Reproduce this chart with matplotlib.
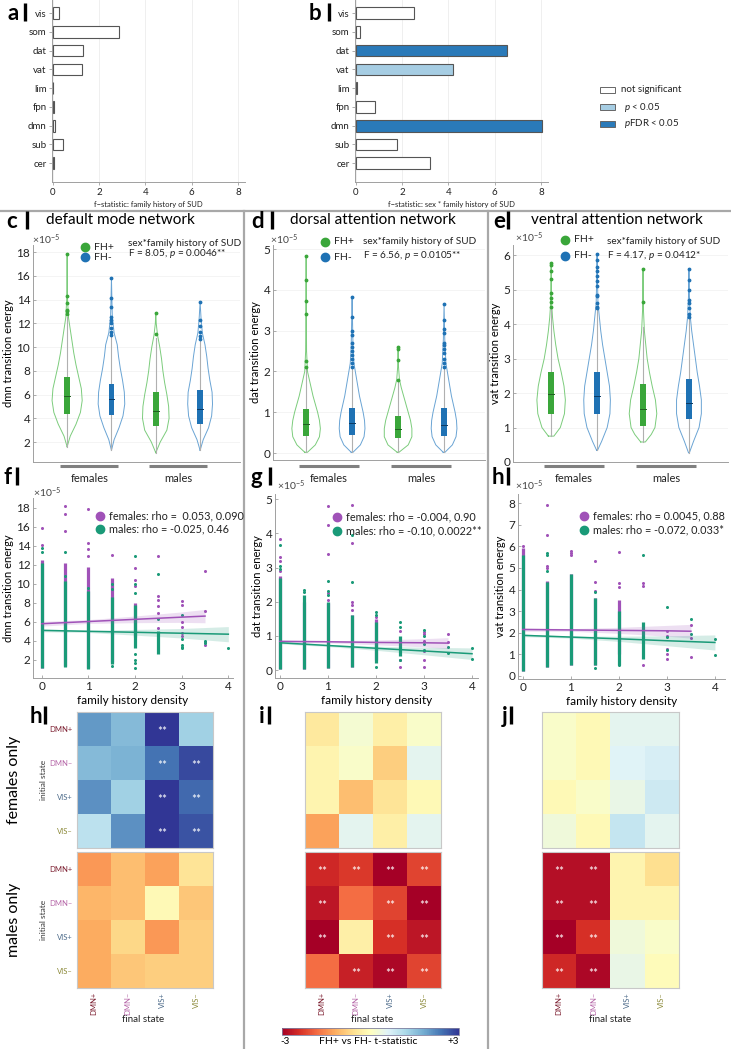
import numpy as np
import matplotlib
matplotlib.use("Agg")
import matplotlib.pyplot as plt
import matplotlib.transforms as mtransforms
from matplotlib.lines import Line2D
from matplotlib.patches import Rectangle
from matplotlib.colors import Normalize
from matplotlib.colorbar import ColorbarBase

plt.rcParams["font.family"] = ["Lato", "DejaVu Sans"]
plt.rcParams["mathtext.fontset"] = "custom"
plt.rcParams["mathtext.rm"] = "Lato"
plt.rcParams["mathtext.it"] = "Lato:italic"

# ---------------- data ----------------
networks = ["vis", "som", "dat", "vat", "lim", "fpn", "dmn", "sub", "cer"]
f_fh = [0.28, 2.85, 1.3, 1.25, 0.03, 0.05, 0.1, 0.45, 0.05]
f_sex_fh = [2.5, 0.18, 6.55, 4.18, 0.04, 0.82, 8.05, 1.78, 3.2]
sig_fh = [0, 0, 0, 0, 0, 0, 0, 0, 0]
sig_sex_fh = [0, 0, 2, 1, 0, 0, 2, 0, 0]
sig_labels = ["not significant", "$p$ < 0.05", "$p$FDR < 0.05"]

groups = ["females", "males"]

# violins (units 1e-5), order: FH+ females, FH- females, FH+ males, FH- males
c_ys = [[1.6, 2.5, 3.5, 4.5, 5.5, 6.5, 7.5, 8.5, 9.5, 10.5, 11.5, 12.5, 14, 16, 17.8],
        [1.3, 2.2, 3.2, 4.2, 5.2, 6.2, 7.2, 8.2, 9.2, 10.2, 11.2, 12.5, 14, 15.8],
        [1.1, 2.0, 3.0, 4.0, 5.0, 6.0, 7.0, 8.0, 9.0, 10.0, 11.0, 12.0, 12.9],
        [1.3, 2.2, 3.2, 4.2, 5.2, 6.2, 7.2, 8.2, 9.2, 10.2, 11.2, 12.5, 13.8]]
c_hw = [[0, 0.07, 0.2, 0.3, 0.34, 0.32, 0.26, 0.2, 0.15, 0.11, 0.07, 0.03, 0.01, 0.005, 0],
        [0, 0.06, 0.17, 0.26, 0.3, 0.29, 0.25, 0.2, 0.16, 0.13, 0.06, 0.02, 0.01, 0],
        [0, 0.1, 0.25, 0.3, 0.29, 0.25, 0.2, 0.16, 0.13, 0.09, 0.04, 0.01, 0],
        [0, 0.07, 0.19, 0.26, 0.28, 0.27, 0.22, 0.18, 0.15, 0.11, 0.05, 0.02, 0]]
c_box = [[4.4, 5.9, 7.45], [4.3, 5.6, 6.9], [3.35, 4.6, 6.25], [3.55, 4.8, 6.35]]
c_wtop = [12.5, 10.9, 10.8, 10.5]
c_out = [[12.8, 13.0, 13.1, 13.7, 14.3, 17.8],
         [11.0, 11.3, 11.6, 12.0, 12.3, 12.5, 13.4, 14.1, 15.8],
         [11.1, 12.9],
         [10.7, 10.9, 11.3, 11.8, 12.3, 13.8]]

d_ys = [[0.02, 0.2, 0.4, 0.6, 0.8, 1.0, 1.2, 1.4, 1.6, 1.8, 2.0, 2.5, 3.5, 4.82],
        [0.02, 0.2, 0.4, 0.6, 0.8, 1.0, 1.2, 1.4, 1.6, 1.8, 2.0, 2.2, 2.6, 3.2, 3.83],
        [0.02, 0.2, 0.4, 0.6, 0.8, 1.0, 1.2, 1.4, 1.6, 1.8, 2.1, 2.6],
        [0.02, 0.2, 0.4, 0.6, 0.8, 1.0, 1.2, 1.4, 1.6, 1.8, 2.0, 2.2, 2.8, 3.65]]
d_hw = [[0.03, 0.2, 0.29, 0.31, 0.29, 0.25, 0.2, 0.15, 0.11, 0.07, 0.03, 0.01, 0.005, 0],
        [0.02, 0.18, 0.26, 0.28, 0.27, 0.24, 0.2, 0.16, 0.13, 0.1, 0.07, 0.04, 0.02, 0.01, 0],
        [0.02, 0.22, 0.3, 0.3, 0.27, 0.22, 0.17, 0.12, 0.07, 0.03, 0.01, 0],
        [0.02, 0.18, 0.26, 0.28, 0.27, 0.24, 0.2, 0.16, 0.13, 0.1, 0.07, 0.04, 0.015, 0]]
d_box = [[0.43, 0.72, 1.07], [0.45, 0.73, 1.1], [0.36, 0.58, 0.92], [0.43, 0.7, 1.1]]
d_wtop = [2.05, 2.05, 1.75, 2.05]
d_out = [[2.1, 2.25, 3.4, 3.72, 4.25, 4.82],
         [2.1, 2.2, 2.3, 2.4, 2.5, 2.6, 2.7, 2.9, 3.0, 3.33, 3.83],
         [1.78, 2.28, 2.55, 2.6],
         [2.1, 2.2, 2.3, 2.45, 2.55, 2.65, 2.7, 2.95, 3.05, 3.25, 3.65]]

e_ys = [[0.75, 1.0, 1.4, 1.8, 2.2, 2.6, 3.0, 3.4, 3.8, 4.2, 4.5, 5.0, 5.78],
        [0.34, 0.6, 1.0, 1.4, 1.8, 2.2, 2.6, 3.0, 3.4, 3.8, 4.2, 4.6, 5.2, 6.02],
        [0.58, 0.8, 1.0, 1.4, 1.8, 2.2, 2.6, 3.0, 3.4, 3.8, 4.4, 5.6],
        [0.27, 0.6, 1.0, 1.4, 1.8, 2.2, 2.6, 3.0, 3.4, 3.8, 4.2, 4.8, 5.6]]
e_hw = [[0.06, 0.2, 0.29, 0.31, 0.28, 0.22, 0.15, 0.1, 0.06, 0.03, 0.015, 0.008, 0],
        [0.01, 0.1, 0.22, 0.28, 0.29, 0.27, 0.22, 0.17, 0.12, 0.08, 0.05, 0.02, 0.01, 0],
        [0.05, 0.18, 0.26, 0.3, 0.27, 0.2, 0.14, 0.09, 0.06, 0.03, 0.01, 0],
        [0.01, 0.1, 0.22, 0.27, 0.27, 0.23, 0.18, 0.14, 0.1, 0.06, 0.03, 0.01, 0]]
e_box = [[1.4, 1.97, 2.62], [1.4, 1.9, 2.6], [1.05, 1.55, 2.25], [1.25, 1.72, 2.42]]
e_wtop = [4.45, 4.4, 3.9, 4.15]
e_out = [[4.5, 4.65, 4.75, 4.9, 5.3, 5.55, 5.7, 5.78],
         [4.45, 4.5, 4.6, 4.8, 4.85, 5.1, 5.25, 5.4, 5.55, 5.65, 5.85, 6.02],
         [4.65, 5.6],
         [4.2, 4.3, 4.45, 4.6, 4.7, 5.0, 5.27, 5.6]]

# scatter panels: dense columns (x, lo, hi) and separate points, units 1e-5
f_fem_dense_x = [0, 0.5, 1, 1.5, 2]
f_fem_dense_lo = [1.2, 1.4, 1.1, 1.8, 4.4]
f_fem_dense_hi = [12.5, 12.2, 11.8, 10.6, 8.0]
f_mal_dense_x = [0, 0.5, 1, 1.5, 2, 2.5]
f_mal_dense_lo = [1.2, 1.3, 1.0, 1.6, 3.3, 2.6]
f_mal_dense_hi = [12.2, 10.3, 9.2, 8.6, 7.8, 5.0]
f_fem_px = [0, 0, 0.5, 0.5, 0.5, 1, 1, 1, 1, 1.5, 2, 2, 2, 2.5, 2.5, 2.5, 2.5, 2.5, 2.5,
            3, 3, 3, 3, 3, 3, 3.5, 3.5, 3.5, 3.5]
f_fem_py = [15.8, 14.1, 18.2, 17.3, 15.5, 17.8, 14.3, 13.6, 12.9, 13.0, 11.7, 10.4, 9.8,
            12.9, 8.7, 8.3, 7.7, 6.9, 5.4, 8.2, 7.8, 6.0, 5.5, 4.8, 4.5, 11.3, 7.1, 3.9, 3.6]
f_mal_px = [0, 0, 0.5, 0.5, 1, 1.5, 1.5, 1.5, 2, 2, 2, 2, 2, 2, 2, 2.5, 2.5, 3, 3, 3, 3, 3,
            3.5, 3.5, 4]
f_mal_py = [13.8, 13.3, 13.3, 10.8, 9.5, 10.0, 9.4, 1.4, 12.9, 10.0, 9.0, 2.6, 2.0, 1.7, 1.2,
            11.0, 6.3, 6.7, 4.2, 3.6, 3.4, 3.2, 4.0, 3.8, 3.3]
f_fem_fit_x = [0, 1, 2, 3, 3.5]
f_fem_fit = [5.8, 6.03, 6.26, 6.49, 6.6]
f_fem_ci = [0.25, 0.2, 0.35, 0.55, 0.7]
f_mal_fit_x = [0, 1, 2, 3, 4]
f_mal_fit = [5.1, 5.0, 4.9, 4.8, 4.7]
f_mal_ci = [0.15, 0.12, 0.3, 0.5, 0.8]

g_fem_dense_x = [0, 0.5, 1, 1.5, 2]
g_fem_dense_lo = [0.02, 0.02, 0.05, 0.1, 0.3]
g_fem_dense_hi = [2.75, 2.0, 1.95, 1.6, 1.5]
g_mal_dense_x = [0, 0.5, 1, 1.5, 2, 2.5]
g_mal_dense_lo = [0.02, 0.02, 0.05, 0.1, 0.2, 0.4]
g_mal_dense_hi = [2.7, 2.2, 2.0, 1.6, 1.4, 1.0]
g_fem_px = [0, 0, 0, 0, 0.5, 1, 1, 1, 1, 1, 1.5, 1.5, 1.5, 1.5, 1.5, 2, 2.5, 2.5, 2.5, 2.5,
            2.5, 3, 3, 3, 3, 3, 3, 3.5, 3.5]
g_fem_py = [3.83, 3.3, 3.2, 2.9, 2.0, 4.8, 4.25, 3.4, 2.25, 2.05, 4.83, 3.72, 1.98, 1.9, 1.75,
            1.55, 1.15, 0.9, 0.5, 0.3, 0.1, 1.12, 1.05, 0.85, 0.55, 0.3, 0.1, 1.05, 0.82]
g_mal_px = [0, 0, 0, 0.5, 0.5, 1, 1, 1, 1.5, 1.5, 2, 2, 2, 2.5, 2.5, 2.5, 3, 3, 3, 3, 3.5, 3.5,
            4, 4]
g_mal_py = [3.65, 3.05, 2.95, 2.33, 2.28, 2.6, 2.3, 2.2, 3.95, 2.58, 1.7, 1.62, 0.1, 1.4, 1.25,
            0.3, 1.17, 1.0, 0.75, 0.6, 0.67, 0.5, 0.65, 0.33]
g_fem_fit_x = [0, 1, 2, 3, 3.5]
g_fem_fit = [0.84, 0.83, 0.81, 0.80, 0.79]
g_fem_ci = [0.04, 0.03, 0.07, 0.12, 0.16]
g_mal_fit_x = [0, 1, 2, 3, 4]
g_mal_fit = [0.80, 0.72, 0.64, 0.56, 0.48]
g_mal_ci = [0.03, 0.03, 0.06, 0.11, 0.17]

h_fem_dense_x = [0, 0.5, 1, 1.5, 2]
h_fem_dense_lo = [0.25, 0.4, 0.5, 0.5, 1.0]
h_fem_dense_hi = [5.9, 4.4, 4.7, 3.6, 3.5]
h_mal_dense_x = [0, 0.5, 1, 1.5, 2, 2.5]
h_mal_dense_lo = [0.25, 0.4, 0.5, 0.5, 0.5, 0.8]
h_mal_dense_hi = [5.6, 4.35, 4.7, 3.6, 3.0, 2.5]
h_fem_px = [0, 0.5, 0.5, 0.5, 0.5, 1, 1, 1, 1.5, 1.5, 1.5, 2, 2, 2, 2.5, 2.5, 2.5, 2.5, 2.5,
            3, 3, 3, 3, 3, 3.5, 3.5, 3.5]
h_fem_py = [6.0, 7.9, 6.5, 5.1, 5.0, 5.8, 5.7, 5.6, 5.3, 4.35, 3.95, 5.75, 4.3, 4.1, 4.3, 4.15,
            1.7, 1.0, 0.5, 2.1, 1.85, 1.25, 1.0, 0.8, 2.35, 1.75, 0.9]
h_mal_px = [0.5, 0.5, 0.5, 1.5, 1.5, 2, 2.5, 3, 3, 3, 3.5, 3.5, 4, 4]
h_mal_py = [5.7, 5.6, 4.85, 3.9, 0.35, 0.5, 5.6, 3.2, 1.8, 1.2, 2.65, 1.95, 1.7, 0.95]
h_fem_fit_x = [0, 1, 2, 3, 3.5]
h_fem_fit = [2.15, 2.13, 2.11, 2.09, 2.07]
h_fem_ci = [0.08, 0.06, 0.14, 0.25, 0.32]
h_mal_fit_x = [0, 1, 2, 3, 4]
h_mal_fit = [1.88, 1.80, 1.72, 1.63, 1.55]
h_mal_ci = [0.06, 0.05, 0.12, 0.23, 0.35]

# heatmaps: FH+ vs FH- t-statistic, rows = initial state, cols = final state
states = ["DMN+", "DMN\u2013", "VIS+", "VIS\u2013"]
state_colors = ["#7b1c2e", "#b565a7", "#4d6b8a", "#8c8a3a"]
hm_dmn_fem = [[2.0, 1.6, 3.0, 1.3], [1.6, 1.7, 2.4, 2.8], [2.1, 1.3, 3.0, 2.5], [1.0, 2.1, 3.0, 2.7]]
hm_dmn_mal = [[-1.4, -1.0, -1.3, -0.5], [-1.1, -1.0, -0.1, -0.9], [-1.2, -0.7, -1.4, -0.8],
              [-1.2, -0.9, -0.8, -0.8]]
hm_dat_fem = [[-0.4, 0.2, -0.3, 0.1], [-0.2, 0.1, -0.8, 0.5], [-0.2, -1.0, -0.5, -0.1],
              [-1.3, 0.5, -0.3, 0.5]]
hm_dat_mal = [[-2.5, -2.3, -3.0, -2.2], [-2.7, -1.8, -2.2, -3.0], [-3.0, -0.3, -2.4, -2.7],
              [-1.8, -2.6, -2.9, -2.2]]
hm_vat_fem = [[0.1, -0.1, 0.5, 0.5], [0.1, -0.1, 0.6, 0.7], [-0.1, 0.1, 0.4, 0.8],
              [0.3, -0.1, 0.9, 0.5]]
hm_vat_mal = [[-2.8, -2.8, -0.2, -0.6], [-2.8, -2.8, -0.2, -0.2], [-3.0, -2.4, 0.3, 0.1],
              [-2.5, -2.9, 0.4, -0.05]]
st_dmn_fem = [[0, 0, 1, 0], [0, 0, 1, 1], [0, 0, 1, 1], [0, 0, 1, 1]]
st_none = [[0, 0, 0, 0]] * 4
st_dat_mal = [[1, 1, 1, 1], [1, 0, 1, 1], [1, 0, 1, 1], [0, 1, 1, 1]]
st_vat_mal = [[1, 1, 0, 0]] * 4

# ---------------- figure ----------------
W, H = 731, 1049
fig = plt.figure(figsize=(W / 100, H / 100), dpi=100)

GREEN, GREEN_L, GREEN_D = "#3aa63a", "#7ccc7c", "#215e21"
BLUE, BLUE_L, BLUE_D = "#1f72b4", "#6aa4d4", "#0c3a63"
PURPLE, TEAL = "#a052b8", "#1a9a78"
AX_GRAY = "#a0a0a0"


def px(l, t, r, b):
    return [l / W, 1 - b / H, (r - l) / W, (b - t) / H]


def ftext(x, y, s, **kw):
    fig.text(x / W, 1 - y / H, s, **kw)


def fline(xs, ys, **kw):
    fig.add_artist(Line2D([x / W for x in xs], [1 - y / H for y in ys],
                          transform=fig.transFigure, **kw))


def letter(x, base, s, bar_x):
    ftext(x, base, s, fontsize=16, fontweight="bold", va="baseline")
    fline([bar_x, bar_x], [base - 17, base + 1], color="black", lw=2.4, solid_capstyle="butt")


def style_axes(ax):
    for sp in ["top", "right"]:
        ax.spines[sp].set_visible(False)
    for sp in ["left", "bottom"]:
        ax.spines[sp].set_color(AX_GRAY)
        ax.spines[sp].set_linewidth(0.7)
    ax.tick_params(color=AX_GRAY, labelcolor="#222222", direction="in", length=2.5, width=0.6)


# dividers
fline([0, W], [211, 211], color="#a8a8a8", lw=1.6)
fline([244, 244], [211, H], color="#a8a8a8", lw=1.6)
fline([488, 488], [211, H], color="#a8a8a8", lw=1.6)

# ---- a, b: bar panels ----
sig_colors = ["white", "#a6cde3", "#2a7ab9"]
for box, vals, sig, xlab in [((52, 0, 245, 182), f_fh, sig_fh, "f\u2212statistic: family history of SUD"),
                             ((355, 0, 548, 182), f_sex_fh, sig_sex_fh,
                              "f\u2212statistic: sex * family history of SUD")]:
    ax = fig.add_axes(px(*box))
    ax.barh(np.arange(len(networks)), vals, height=0.62,
            color=[sig_colors[s] for s in sig], edgecolor="#555555", linewidth=0.8, zorder=3)
    ax.set_ylim(9.0, -0.7)
    ax.set_xlim(-0.03, 8.3)
    ax.set_xticks([0, 2, 4, 6, 8])
    ax.set_yticks(np.arange(len(networks)))
    ax.set_yticklabels(networks)
    ax.grid(axis="x", color="#ececec", lw=0.6)
    style_axes(ax)
    ax.tick_params(labelsize=7, direction="out", length=2, pad=2)
    ax.set_xlabel(xlab, fontsize=5.5, labelpad=3, color="#222222")

for i, (lab, col) in enumerate(zip(sig_labels, sig_colors)):
    y = 90 + 17 * i
    fig.add_artist(Rectangle((600 / W, 1 - (y + 3) / H), 15 / W, 6 / H, transform=fig.transFigure,
                             facecolor=col, edgecolor="#666666", lw=0.7))
    ftext(621 + (3 if i else 0), y, lab, fontsize=7, va="center", color="#222222")

letter(8, 20, "a", 25)
letter(309, 20, "b", 329)

# ---- c, d, e: violins ----
violin_panels = [
    ("c", (33, 245, 240, 462), (0.23, 4.9), (0.32, 18.6), range(2, 19, 2), c_ys, c_hw, c_box, c_wtop,
     c_out, "dmn transition energy", "default mode network", 120, "F = 8.05, $p$ = 0.0046**",
     (85, 247, 257), (128, 243, 254), (32, 240), (6, 27)),
    ("d", (273, 245, 485, 460), (0.28, 4.89), (-0.17, 5.1), range(0, 6), d_ys, d_hw, d_box, d_wtop,
     d_out, "dat transition energy", "dorsal attention network", 373, "F = 6.56, $p$ = 0.0105**",
     (325, 242, 257), (363, 242, 256), (270, 240), (251, 272)),
    ("e", (513, 245, 728, 462), (0.17, 4.85), (0.0, 6.29), range(0, 7), e_ys, e_hw, e_box, e_wtop,
     e_out, "vat transition energy", "ventral attention network", 617, "F = 4.17, $p$ = 0.0412*",
     (565, 240, 256), (607, 242, 255), (515, 238), (493, 508)),
]

for (name, box, xl, yl, yt, ys_l, hw_l, box_l, wtop_l, out_l, ylab, title, tx, ftxt,
     leg, ann, expo, let) in violin_panels:
    ax = fig.add_axes(px(*box))
    for i in range(4):
        pos = i + 1
        dark, light, med = (GREEN, GREEN_L, GREEN_D) if i % 2 == 0 else (BLUE, BLUE_L, BLUE_D)
        ys = np.asarray(ys_l[i])
        hw = np.asarray(hw_l[i])
        ax.plot(np.r_[pos - hw, (pos + hw)[::-1], pos - hw[0]], np.r_[ys, ys[::-1], ys[0]],
                color=light, lw=0.7, zorder=2)
        ax.plot([pos, pos], [ys[0], wtop_l[i]], color="#b0b0b0", lw=0.8, zorder=2)
        q1, md, q3 = box_l[i]
        ax.add_patch(Rectangle((pos - 0.065, q1), 0.13, q3 - q1, facecolor=dark,
                               edgecolor="none", zorder=3))
        ax.plot([pos - 0.065, pos + 0.065], [md, md], color=med, lw=0.7, zorder=4)
        ax.plot([pos] * len(out_l[i]), out_l[i], ".", color=dark, ms=3.5, zorder=4)
    ax.set_xlim(*xl)
    ax.set_ylim(*yl)
    ax.set_xticks([])
    ax.set_yticks(list(yt))
    ax.grid(axis="y", color="#f2f2f2", lw=0.6)
    ax.set_axisbelow(True)
    style_axes(ax)
    ax.tick_params(labelsize=8.5, pad=2)
    ax.set_ylabel(ylab, fontsize=8, labelpad=2)
    trans = mtransforms.blended_transform_factory(ax.transData, fig.transFigure)
    for gi, g in enumerate(groups):
        x0 = 0.85 + 2 * gi
        ax.plot([x0, x0 + 1.3], [1 - 466 / H] * 2, transform=trans, clip_on=False,
                color="#808080", lw=2.2, solid_capstyle="butt")
        ax.text(x0 + 0.65, 1 - 479 / H, g, transform=trans, ha="center", va="center",
                fontsize=8, color="#222222")
    ftext(tx, 220, title, fontsize=11, ha="center", va="center")
    lx, ly1, ly2 = leg
    for yy, col, lab in [(ly1, GREEN, "FH+"), (ly2, BLUE, "FH-")]:
        fig.add_artist(Line2D([lx / W], [1 - yy / H], marker="o", ms=6, color=col,
                              transform=fig.transFigure))
        ftext(lx + 9, yy, lab, fontsize=7.5, va="center", color="#222222")
    ax_, ay1, ay2 = ann
    ftext(ax_, ay1, "sex*family history of SUD", fontsize=7.2, va="center", color="#222222")
    ftext(ax_, ay2, ftxt, fontsize=7.2, va="center", color="#222222")
    ftext(expo[0], expo[1], r"$\times10^{-5}$", fontsize=7.5, va="center", color="#444444")
    letter(let[0], 228, name, let[1])

# ---- f, g, h: scatter panels ----
scatter_panels = [
    ((33, 498, 233, 678), (-0.19, 4.1), (0.1, 19.0), range(2, 19, 2),
     (f_fem_dense_x, f_fem_dense_lo, f_fem_dense_hi), (f_mal_dense_x, f_mal_dense_lo, f_mal_dense_hi),
     (f_fem_px, f_fem_py), (f_mal_px, f_mal_py),
     (f_fem_fit_x, f_fem_fit, f_fem_ci), (f_mal_fit_x, f_mal_fit, f_mal_ci),
     "dmn transition energy", ("females: rho =  0.053, 0.090", "males: rho = -0.025, 0.46"),
     (100, 516, 529), (33, 493), ("f", 3, 17)),
    ((275, 494, 478, 678), (-0.10, 4.125), (-0.23, 5.15), range(0, 6),
     (g_fem_dense_x, g_fem_dense_lo, g_fem_dense_hi), (g_mal_dense_x, g_mal_dense_lo, g_mal_dense_hi),
     (g_fem_px, g_fem_py), (g_mal_px, g_mal_py),
     (g_fem_fit_x, g_fem_fit, g_fem_ci), (g_mal_fit_x, g_mal_fit, g_mal_ci),
     "dat transition energy", ("females: rho = -0.004, 0.90", "males: rho = -0.10, 0.0022**"),
     (337, 517, 531), (277, 486), ("g", 250, 270)),
    ((518, 494, 725, 679), (-0.10, 4.21), (-0.14, 8.42), range(0, 9),
     (h_fem_dense_x, h_fem_dense_lo, h_fem_dense_hi), (h_mal_dense_x, h_mal_dense_lo, h_mal_dense_hi),
     (h_fem_px, h_fem_py), (h_mal_px, h_mal_py),
     (h_fem_fit_x, h_fem_fit, h_fem_ci), (h_mal_fit_x, h_mal_fit, h_mal_ci),
     "vat transition energy", ("females: rho = 0.0045, 0.88", "males: rho = -0.072, 0.033*"),
     (584, 516, 530), (515, 486), ("h", 492, 508)),
]

for (box, xl, yl, yt, dfem, dmal, pfem, pmal, ffem, fmal, ylab, legs, leg, expo,
     let) in scatter_panels:
    ax = fig.add_axes(px(*box))
    for dense, pts, col in [(dfem, pfem, PURPLE), (dmal, pmal, TEAL)]:
        ax.vlines(dense[0], dense[1], dense[2], color=col, lw=2.3, zorder=2)
        ax.plot(pts[0], pts[1], "o", ms=2.2, color=col, mec="none", zorder=2)
    for fit, col in [(ffem, PURPLE), (fmal, TEAL)]:
        fx, fy, ci = (np.asarray(a) for a in fit)
        ax.fill_between(fx, fy - ci, fy + ci, color=col, alpha=0.18, lw=0, zorder=3)
        ax.plot(fx, fy, color=col, lw=1.1, zorder=4)
    ax.set_xlim(*xl)
    ax.set_ylim(*yl)
    ax.set_xticks(range(5))
    ax.set_yticks(list(yt))
    style_axes(ax)
    ax.tick_params(labelsize=8.5, pad=2)
    ax.set_ylabel(ylab, fontsize=8, labelpad=2)
    ax.set_xlabel("family history density", fontsize=8.5, labelpad=2)
    lx, ly1, ly2 = leg
    for yy, col, lab in [(ly1, PURPLE, legs[0]), (ly2, TEAL, legs[1])]:
        fig.add_artist(Line2D([lx / W], [1 - yy / H], marker="o", ms=6, color=col,
                              transform=fig.transFigure))
        ftext(lx + 9, yy, lab, fontsize=7.8, va="center", color="#222222")
    ftext(expo[0], expo[1], r"$\times10^{-5}$", fontsize=7.5, va="center", color="#444444")
    letter(let[1], 484, let[0], let[2])

# ---- h, i, j: heatmaps ----
cmap = plt.get_cmap("RdYlBu")
heat_panels = [
    (77, 213, hm_dmn_fem, hm_dmn_mal, st_dmn_fem, st_none, True, 143, ("h", 30, 45)),
    (305, 441, hm_dat_fem, hm_dat_mal, st_none, st_dat_mal, False, 372, ("i", 259, 269)),
    (542, 679, hm_vat_fem, hm_vat_mal, st_none, st_vat_mal, False, 610, ("j", 502, 511)),
]
for l, r, vf, vm, sf, sm, row_labels, fx, let in heat_panels:
    for t, b, vals, stars, bottom in [(712, 848, vf, sf, False), (852, 988, vm, sm, True)]:
        ax = fig.add_axes(px(l, t, r, b))
        ax.imshow(np.asarray(vals), cmap=cmap, vmin=-3, vmax=3, aspect="auto")
        for i in range(4):
            for j in range(4):
                if stars[i][j]:
                    ax.text(j, i + 0.08, "**", ha="center", va="center", color="white", fontsize=8.5)
        for sp in ax.spines.values():
            sp.set_color("#c8c8c8")
            sp.set_linewidth(0.8)
        ax.tick_params(length=0, pad=3)
        if row_labels:
            ax.set_yticks(range(4))
            ax.set_yticklabels(states, fontsize=5.5)
            for tl, c in zip(ax.get_yticklabels(), state_colors):
                tl.set_color(c)
            ax.set_ylabel("initial state", fontsize=6, labelpad=2, color="#333333")
        else:
            ax.set_yticks([])
        if bottom:
            ax.set_xticks(range(4))
            ax.set_xticklabels(states, fontsize=5.5, rotation=90)
            for tl, c in zip(ax.get_xticklabels(), state_colors):
                tl.set_color(c)
        else:
            ax.set_xticks([])
    ftext(fx, 1020, "final state", fontsize=7, ha="center", va="center", color="#222222")
    letter(let[1], 723, let[0], let[2])

ftext(14, 780, "females only", fontsize=11.5, rotation=90, ha="center", va="center")
ftext(14, 920, "males only", fontsize=11.5, rotation=90, ha="center", va="center")

cax = fig.add_axes(px(282, 1028, 459, 1035))
cb = ColorbarBase(cax, cmap=cmap, norm=Normalize(-3, 3), orientation="horizontal")
cb.set_ticks([])
cb.outline.set_edgecolor("#8080a0")
cb.outline.set_linewidth(0.6)
ftext(285, 1042, "-3", fontsize=7, ha="center", va="center")
ftext(453, 1042, "+3", fontsize=7, ha="center", va="center")
ftext(368, 1041, "FH+ vs FH- t-statistic", fontsize=7.5, ha="center", va="center")

fig.savefig("out.png", dpi=100)
